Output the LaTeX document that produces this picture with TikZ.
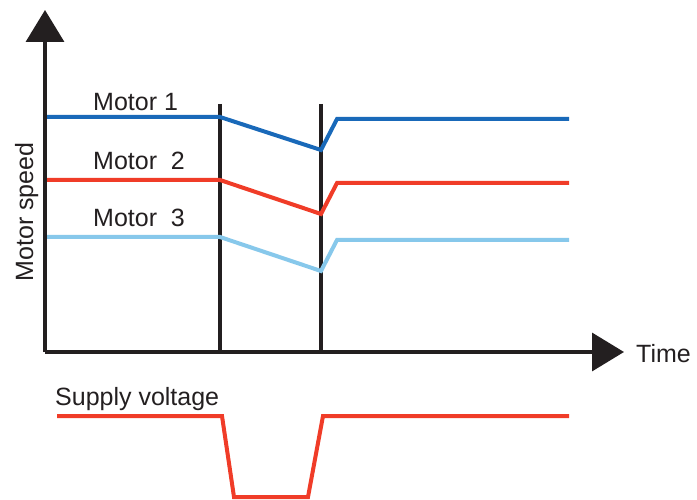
\documentclass[tikz,border=0pt]{standalone}
\usepackage{fontspec}
\setmainfont{Liberation Sans}
\usetikzlibrary{arrows.meta}
\definecolor{motorone}{RGB}{25,105,185}
\definecolor{motortwo}{RGB}{240,60,40}
\definecolor{motorthree}{RGB}{135,200,235}
\definecolor{ink}{RGB}{35,31,32}

\begin{document}
\begin{tikzpicture}[x=1pt,y=-1pt,>={Triangle[length=32pt,width=38pt]},
	axis/.style={line width=3.5pt,ink},
	curve/.style={line width=4pt,line join=miter},
	lbl/.style={font=\fontsize{25}{29}\selectfont,text=ink,inner sep=0pt,anchor=base west}]
				\useasboundingbox (0,0) rectangle (697,500);
				\coordinate (o) at (45,352);
				\draw[axis,->] (o) -- (45,10) coordinate (ytip);
				\draw[axis,->] (o) -- (624,352) coordinate (xtip);
				\node[lbl] (time) at (636,362) {Time};
				\node[lbl,anchor=base,rotate=90] (speed) at (33,212) {Motor speed};
				
				% switching instants
				\draw[axis] (220,104) coordinate (ta) -- (220,352);
				\draw[axis] (321,104) coordinate (tb) -- (321,352);
				
				\foreach \clr/\ya/\yb/\yc in
					{motorone/117/150/119,motortwo/180/214/183,motorthree/237/271/240}
					\draw[curve,\clr] (47,\ya) -- (220,\ya) -- (321,\yb) -- (337,\yc) -- (569,\yc);
				
				\node[lbl] (mone) at (93,111) {Motor 1};
				\node[lbl] (mtwo) at (93,170) {Motor\ \ 2};
				\node[lbl] (mthree) at (93,227) {Motor\ \ 3};
				
				% supply
				\node[lbl] (supply) at (55,405) {Supply voltage};
				\draw[curve,motortwo] (57,416) -- (222,416) -- (234,497) -- (308,497) -- (323,416) -- (569,416);
	\end{tikzpicture}
\end{document}
